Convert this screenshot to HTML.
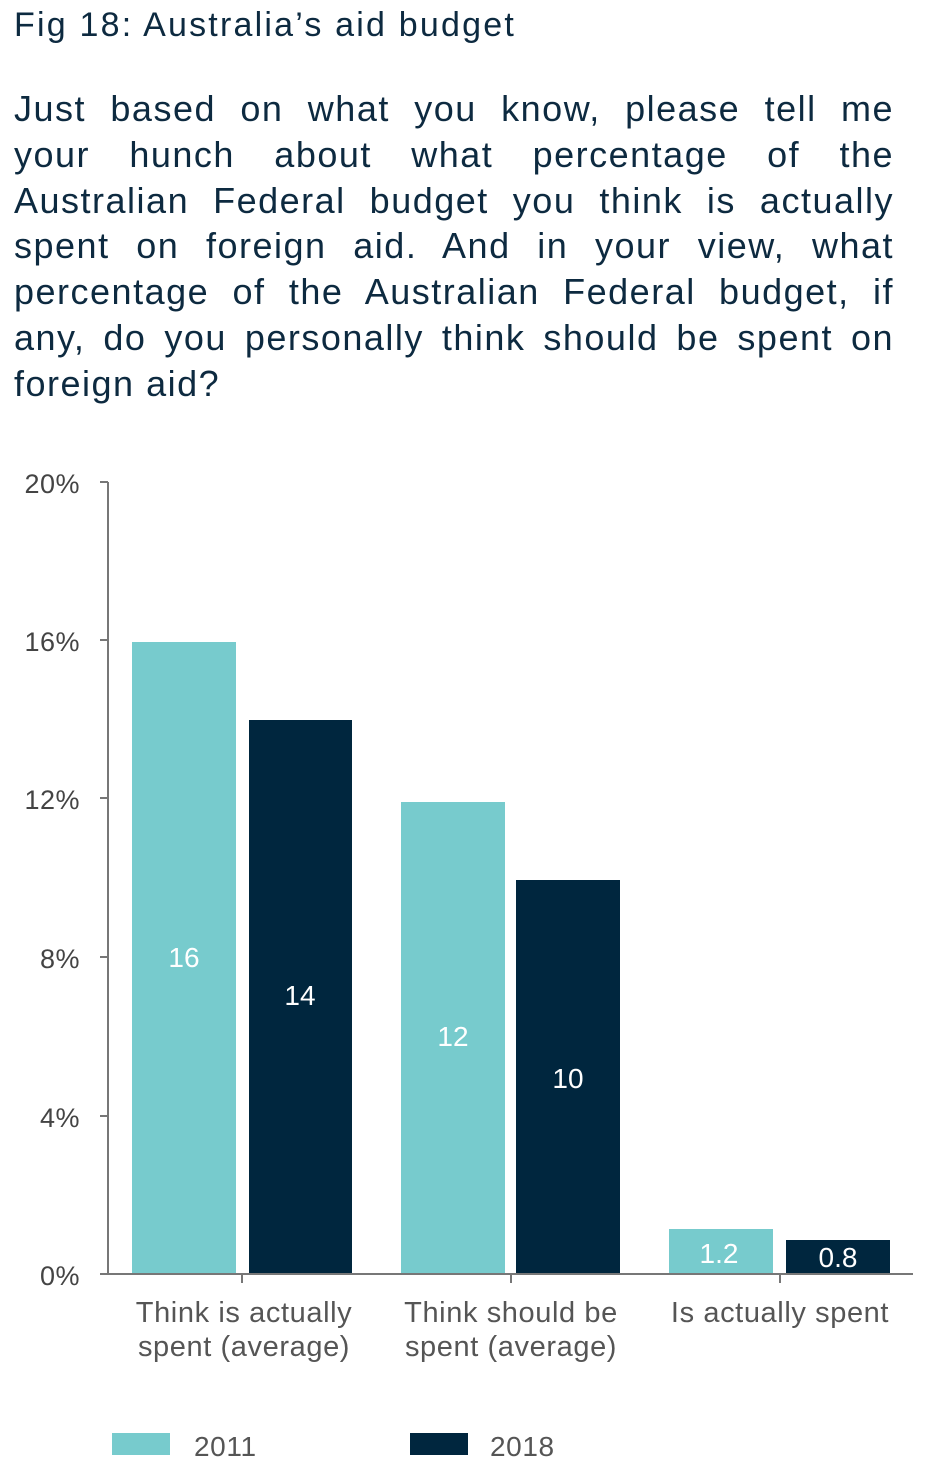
<!DOCTYPE html>
<html><head><meta charset="utf-8"><style>
body{margin:0;background:#fff;width:928px;height:1470px;overflow:hidden;font-family:"Liberation Sans",sans-serif;color:#0d2a40}
.t{position:absolute;left:14px;top:6px;font-size:34px;letter-spacing:2.2px}
.p{position:absolute;left:14px;top:86px;width:880px;font-size:36px;line-height:45.8px;letter-spacing:1.5px}
.p span{display:block;text-align:justify;text-align-last:justify;white-space:nowrap;height:45.8px}
.p span.l{text-align-last:left}
</style></head><body>
<div class="t">Fig 18: Australia’s aid budget</div>
<div class="p">
<span>Just based on what you know, please tell me</span>
<span>your hunch about what percentage of the</span>
<span>Australian Federal budget you think is actually</span>
<span>spent on foreign aid. And in your view, what</span>
<span>percentage of the Australian Federal budget, if</span>
<span>any, do you personally think should be spent on</span>
<span class="l">foreign aid?</span>
</div>
<svg width="928" height="1470" style="position:absolute;left:0;top:0" font-family="Liberation Sans, sans-serif">
<g stroke="#777" stroke-width="2" fill="none">
<line x1="108" y1="482" x2="108" y2="1274"/>
<line x1="100" y1="482" x2="108" y2="482"/><line x1="100" y1="640" x2="108" y2="640"/><line x1="100" y1="798" x2="108" y2="798"/><line x1="100" y1="957" x2="108" y2="957"/><line x1="100" y1="1116" x2="108" y2="1116"/>
<line x1="100" y1="1274" x2="913" y2="1274"/>
<line x1="242" y1="1274" x2="242" y2="1283"/><line x1="511" y1="1274" x2="511" y2="1283"/><line x1="780" y1="1274" x2="780" y2="1283"/>
</g>
<g font-size="27" fill="#444" text-anchor="end" letter-spacing="0.5">
<text x="80" y="493">20%</text><text x="80" y="651">16%</text><text x="80" y="809">12%</text><text x="80" y="968">8%</text><text x="80" y="1127">4%</text><text x="80" y="1285">0%</text>
</g>
<rect x="132" y="642" width="104" height="631" fill="#77cbcd"/>
<rect x="249" y="720" width="103" height="553" fill="#00263e"/>
<rect x="401" y="802" width="104" height="471" fill="#77cbcd"/>
<rect x="516" y="880" width="104" height="393" fill="#00263e"/>
<rect x="669" y="1229" width="104" height="44" fill="#77cbcd"/>
<rect x="786" y="1240" width="104" height="33" fill="#00263e"/>
<g font-size="28" fill="#fff" text-anchor="middle">
<text x="184" y="967">16</text><text x="300" y="1005">14</text><text x="453" y="1046">12</text><text x="568" y="1088">10</text><text x="719" y="1263">1.2</text><text x="838" y="1267">0.8</text>
</g>
<g font-size="29" fill="#555" text-anchor="middle" letter-spacing="0.6">
<text x="244" y="1322">Think is actually</text><text x="244" y="1356">spent (average)</text>
<text x="511" y="1322">Think should be</text><text x="511" y="1356">spent (average)</text>
<text x="780" y="1322">Is actually spent</text>
</g>
<rect x="112" y="1433" width="58" height="22" fill="#77cbcd"/>
<rect x="410" y="1433" width="58" height="22" fill="#00263e"/>
<g font-size="28" fill="#555" letter-spacing="0.6"><text x="194" y="1456">2011</text><text x="490" y="1456">2018</text></g>
</svg>
</body></html>
